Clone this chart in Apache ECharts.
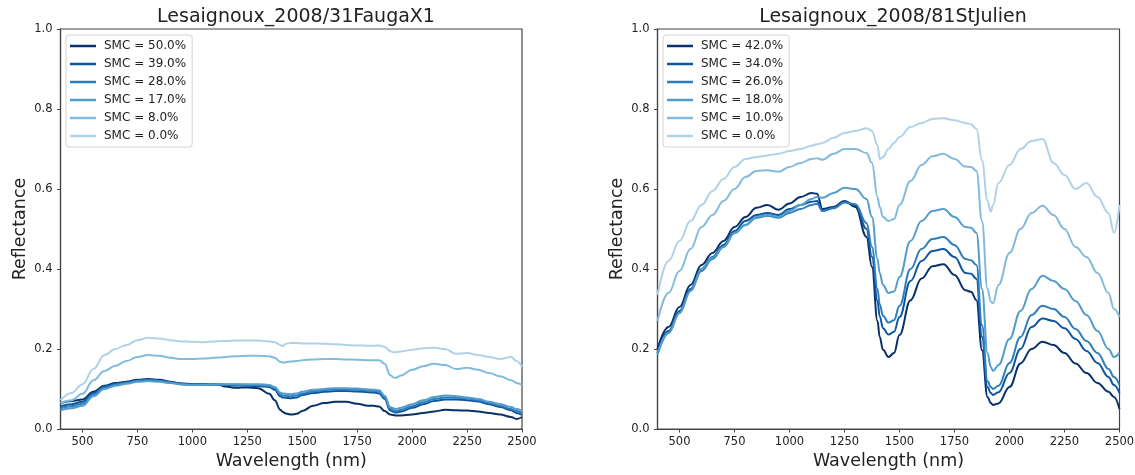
<!DOCTYPE html>
<html>
<head>
<meta charset="utf-8">
<script src="https://cdn.jsdelivr.net/npm/echarts@6/dist/echarts.min.js"></script>
<style>
html,body{margin:0;padding:0;background:#fff;}
#chart{width:1135px;height:475px;}
</style>
</head>
<body>
<div id="chart"></div>
<script>
// Shared wavelength samples (nm)
const wavelengths = [400,450,500,550,600,650,700,750,800,850,900,950,1000,1050,1100,1125,1150,1200,1250,1300,1350,1375,1400,1410,1425,1450,1475,1500,1550,1600,1650,1700,1750,1800,1825,1850,1875,1900,1915,1925,1950,2000,2050,2100,2150,2200,2250,2300,2350,2400,2450,2475,2500];

const xTicks = [500,750,1000,1250,1500,1750,2000,2250,2500];

// Left panel: Lesaignoux_2008/31FaugaX1
const leftTitle = 'Lesaignoux_2008/31FaugaX1';
const leftNames = ['SMC = 50.0%','SMC = 39.0%','SMC = 28.0%','SMC = 17.0%','SMC = 8.0%','SMC = 0.0%'];
const L50 = [.065,.07,.074,.093,.108,.115,.118,.123,.125,.123,.118,.114,.112,.112,.111,.110,.106,.103,.104,.102,.088,.072,.048,.043,.039,.036,.038,.045,.058,.065,.068,.068,.063,.058,.058,.056,.045,.036,.035,.034,.034,.036,.040,.044,.048,.047,.046,.044,.040,.036,.030,.025,.030];
const L39 = [.057,.062,.068,.090,.106,.113,.117,.122,.124,.121,.117,.113,.111,.111,.111,.111,.110,.109,.108,.107,.105,.098,.082,.079,.078,.077,.079,.085,.090,.093,.095,.095,.094,.092,.091,.089,.075,.047,.043,.041,.044,.053,.062,.070,.074,.074,.072,.069,.062,.055,.047,.040,.035];
const L28 = [.052,.057,.063,.086,.103,.111,.115,.120,.122,.120,.116,.112,.111,.111,.111,.111,.111,.111,.110,.110,.108,.102,.087,.084,.083,.082,.084,.089,.094,.097,.099,.099,.098,.096,.095,.093,.079,.051,.047,.045,.048,.057,.067,.075,.079,.078,.076,.072,.066,.058,.050,.045,.040];
const L17 = [.047,.052,.058,.082,.100,.108,.113,.118,.120,.118,.115,.111,.110,.110,.111,.112,.112,.112,.112,.112,.110,.105,.091,.089,.088,.087,.089,.093,.098,.100,.102,.102,.101,.099,.098,.097,.083,.055,.052,.050,.053,.062,.072,.080,.084,.082,.079,.075,.068,.062,.055,.050,.045];
const L8  = [.065,.072,.088,.122,.145,.158,.170,.180,.185,.183,.178,.175,.175,.176,.178,.179,.180,.182,.183,.183,.182,.178,.168,.166,.167,.169,.170,.172,.174,.175,.175,.174,.173,.172,.172,.172,.163,.135,.129,.128,.134,.148,.157,.163,.160,.150,.153,.148,.140,.132,.122,.115,.110];
const L0  = [.072,.090,.112,.150,.185,.200,.210,.222,.228,.226,.222,.219,.218,.217,.219,.220,.220,.221,.221,.221,.219,.217,.210,.207,.213,.215,.215,.214,.214,.213,.212,.210,.209,.208,.208,.209,.205,.195,.192,.192,.194,.198,.202,.203,.200,.188,.190,.185,.180,.175,.180,.170,.155];

// Right panel: Lesaignoux_2008/81StJulien
const rightTitle = 'Lesaignoux_2008/81StJulien';
const rightNames = ['SMC = 42.0%','SMC = 34.0%','SMC = 26.0%','SMC = 18.0%','SMC = 10.0%','SMC = 0.0%'];
const R42 = [.200,.255,.305,.360,.410,.440,.470,.505,.530,.553,.560,.548,.564,.580,.590,.588,.550,.555,.570,.555,.480,.405,.270,.230,.198,.180,.190,.235,.322,.376,.407,.412,.385,.347,.343,.322,.197,.080,.065,.060,.064,.105,.164,.200,.218,.210,.190,.164,.140,.115,.093,.080,.050];
const R34 = [.190,.245,.295,.350,.400,.430,.460,.495,.520,.535,.540,.535,.550,.560,.568,.570,.545,.553,.568,.560,.500,.430,.320,.282,.252,.236,.243,.280,.370,.420,.445,.450,.430,.390,.388,.375,.230,.105,.090,.085,.092,.140,.200,.255,.276,.270,.252,.225,.195,.165,.130,.110,.090];
const R26 = [.190,.240,.290,.345,.395,.425,.455,.490,.510,.528,.533,.528,.540,.550,.560,.563,.545,.552,.566,.562,.515,.455,.350,.312,.283,.266,.272,.308,.400,.450,.475,.480,.460,.425,.422,.410,.260,.120,.105,.100,.108,.165,.230,.285,.308,.300,.280,.250,.220,.190,.150,.130,.110];
const R18 = [.185,.240,.290,.345,.400,.428,.455,.490,.510,.530,.535,.530,.545,.560,.575,.580,.578,.590,.603,.600,.575,.530,.425,.390,.360,.340,.344,.380,.470,.520,.545,.550,.530,.505,.503,.490,.350,.190,.155,.145,.160,.225,.295,.350,.383,.370,.350,.320,.285,.245,.200,.180,.190];
const R10 = [.270,.340,.395,.450,.505,.535,.570,.600,.630,.645,.647,.643,.655,.665,.675,.677,.673,.688,.700,.700,.690,.665,.580,.555,.530,.520,.525,.560,.620,.660,.682,.688,.675,.656,.655,.645,.520,.350,.318,.315,.360,.440,.500,.540,.558,.535,.500,.455,.430,.390,.340,.300,.280];
const R0  = [.335,.420,.470,.520,.560,.595,.625,.655,.675,.680,.684,.688,.695,.700,.708,.712,.715,.728,.740,.745,.752,.745,.710,.675,.680,.700,.715,.730,.755,.765,.775,.777,.772,.765,.762,.750,.672,.570,.543,.560,.615,.660,.700,.720,.725,.665,.635,.600,.615,.580,.540,.490,.560];

const colors = ['#08306b','#0d57a1','#2e7ebc','#529dcc','#82bbdb','#b0d2e8'];

const leftData = [L50,L39,L28,L17,L8,L0];
const rightData = [R42,R34,R26,R18,R10,R0];

const pairs = vals => wavelengths.map((w,i)=>[w, vals[i]]);

const textColor = '#222';
const spine = '#444';
const FONT = 'DejaVu Sans';

function xAxisFor(idx){
  return {
    type:'value', gridIndex:idx, min:400, max:2500,
    name:'Wavelength (nm)', nameLocation:'middle', nameGap:21,
    nameTextStyle:{fontSize:17.5, color:textColor, fontFamily:FONT},
    axisLine:{show:true, onZero:false, lineStyle:{color:spine, width:1.2}},
    axisTick:{show:true, inside:false, length:3.5, lineStyle:{color:spine}, customValues:xTicks},
    axisLabel:{color:textColor, fontSize:11.5, fontFamily:FONT, margin:7, customValues:xTicks, formatter:v=>String(v)},
    splitLine:{show:false}
  };
}
function yAxisFor(idx){
  return {
    type:'value', gridIndex:idx, min:0, max:1, interval:0.2,
    name:'Reflectance', nameLocation:'middle', nameGap:31,
    nameTextStyle:{fontSize:17.5, color:textColor, fontFamily:FONT},
    axisLine:{show:true, onZero:false, lineStyle:{color:spine, width:1.2}},
    axisTick:{show:true, inside:false, length:3.5, lineStyle:{color:spine}},
    axisLabel:{color:textColor, fontSize:11.5, fontFamily:FONT, margin:8, formatter:v=>v.toFixed(1)},
    splitLine:{show:false}
  };
}
function legendFor(names, left){
  return {
    data:names, orient:'vertical', left:left, top:35,
    icon:'rect', itemWidth:26, itemHeight:2.5, itemGap:4,
    padding:[4,6,4,4],
    backgroundColor:'#fff', borderColor:'#d4d4d4', borderWidth:1, borderRadius:3,
    textStyle:{fontSize:12, color:textColor, fontFamily:FONT, lineHeight:14, padding:[0,0,0,3]},
    selectedMode:false
  };
}

const series = [];
leftData.forEach((vals,i)=>{
  series.push({type:'line', name:leftNames[i], xAxisIndex:0, yAxisIndex:0, data:pairs(vals),
    showSymbol:false, symbol:'none', smooth:0.4, smoothMonotone:'x', color:colors[i],
    lineStyle:{width:2, color:colors[i]}});
});
rightData.forEach((vals,i)=>{
  series.push({type:'line', name:rightNames[i], xAxisIndex:1, yAxisIndex:1, data:pairs(vals),
    showSymbol:false, symbol:'none', smooth:0.4, smoothMonotone:'x', color:colors[i],
    lineStyle:{width:2, color:colors[i]}});
});

const chart = echarts.init(document.getElementById('chart'), null, {renderer:'canvas'});
chart.setOption({
  animation:false,
  backgroundColor:'#fff',
  title:[
    {text:leftTitle, left:291, top:3, textAlign:'center', textStyle:{fontSize:19, fontWeight:'normal', color:textColor, fontFamily:FONT}},
    {text:rightTitle, left:888, top:3, textAlign:'center', textStyle:{fontSize:19, fontWeight:'normal', color:textColor, fontFamily:FONT}}
  ],
  grid:[
    {left:60.5, top:29, width:461.5, height:400, show:true, borderColor:spine, borderWidth:1.2, backgroundColor:'transparent', outerBoundsMode:'none', containLabel:false},
    {left:657.5, top:29, width:462, height:400, show:true, borderColor:spine, borderWidth:1.2, backgroundColor:'transparent', outerBoundsMode:'none', containLabel:false}
  ],
  xAxis:[xAxisFor(0), xAxisFor(1)],
  yAxis:[yAxisFor(0), yAxisFor(1)],
  legend:[legendFor(leftNames, 66), legendFor(rightNames, 663)],
  series:series
});
</script>
</body>
</html>
